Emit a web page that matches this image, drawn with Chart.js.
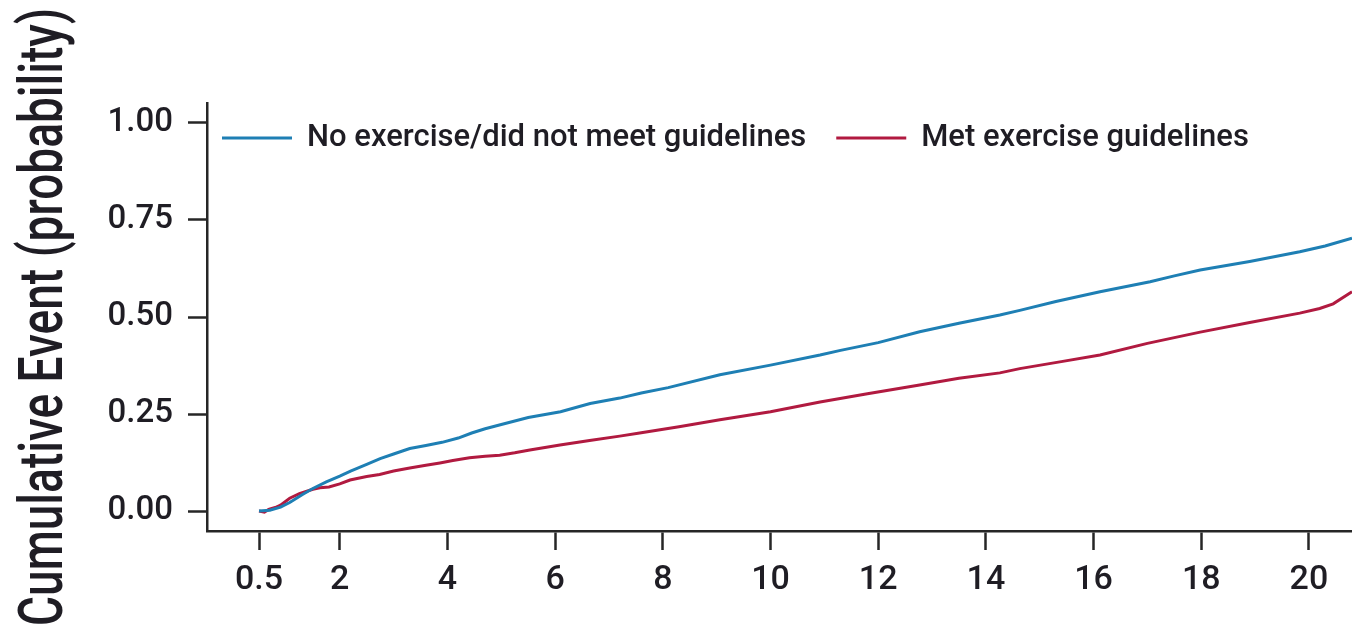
<!DOCTYPE html>
<html>
<head>
<meta charset="utf-8">
<script src="https://cdn.jsdelivr.net/npm/chart.js@4.4.1/dist/chart.umd.min.js"></script>
<style>
  html, body { margin: 0; padding: 0; background: #ffffff; overflow: hidden; }
  canvas { display: block; }
</style>
</head>
<body>
<canvas id="curve" width="1352" height="631"></canvas>
<script>
// Cumulative event curves by exercise group (years of follow-up vs probability)
const seriesLabels = ['No exercise/did not meet guidelines', 'Met exercise guidelines'];
const seriesColors = ['#1e7fb4', '#b11a40'];

const noExerciseYears = [0.5, 0.7, 0.9, 1.07, 1.3, 1.5, 1.75, 2.0, 2.2, 2.5, 2.75, 3.0, 3.3, 3.6, 3.9, 4.2, 4.45, 4.7, 5.0, 5.5, 6.1, 6.65, 7.2, 7.6, 8.1, 9.06, 10.0, 10.92, 11.3, 12.0, 12.77, 13.5, 14.26, 14.63, 15.3, 16.12, 17.05, 17.5, 17.98, 18.9, 19.83, 20.3, 20.8];
const noExerciseProb  = [0.000, 0.002, 0.010, 0.022, 0.042, 0.058, 0.075, 0.090, 0.103, 0.120, 0.135, 0.147, 0.161, 0.169, 0.177, 0.188, 0.201, 0.212, 0.223, 0.241, 0.256, 0.277, 0.291, 0.304, 0.318, 0.351, 0.376, 0.402, 0.414, 0.434, 0.462, 0.484, 0.505, 0.517, 0.540, 0.565, 0.591, 0.606, 0.621, 0.643, 0.668, 0.683, 0.703];

const metYears = [0.5, 0.6, 0.68, 0.8, 0.9, 1.07, 1.25, 1.5, 1.63, 1.8, 2.0, 2.19, 2.5, 2.74, 3.0, 3.3, 3.6, 3.86, 4.1, 4.41, 4.7, 4.97, 5.25, 5.53, 6.09, 6.64, 7.2, 7.57, 8.3, 9.06, 10.0, 10.92, 11.8, 12.77, 13.5, 14.26, 14.63, 15.4, 16.12, 17.0, 17.98, 18.9, 19.83, 20.2, 20.45, 20.8];
const metProb  = [0.000, -0.003, 0.004, 0.009, 0.015, 0.033, 0.045, 0.056, 0.060, 0.062, 0.070, 0.080, 0.089, 0.094, 0.103, 0.111, 0.118, 0.124, 0.130, 0.137, 0.141, 0.144, 0.150, 0.157, 0.170, 0.182, 0.193, 0.201, 0.217, 0.235, 0.256, 0.281, 0.302, 0.325, 0.342, 0.356, 0.367, 0.385, 0.402, 0.432, 0.461, 0.486, 0.510, 0.522, 0.534, 0.565];

const xTickValues = [0.5, 2, 4, 6, 8, 10, 12, 14, 16, 18, 20];
const yTickValues = [0, 0.25, 0.5, 0.75, 1];
const yAxisTitle = 'Cumulative Event (probability)';

const fontFamily = 'Roboto, "Liberation Sans", Arial, sans-serif';
const fontWeight = '500';
const textColor = '#1f1d24';
const axisColor = '#262626';

function toPoints(xs, ys) {
  return xs.map((x, i) => ({ x: x, y: ys[i] }));
}

// Rotated, slightly condensed axis title on the left
const yTitlePlugin = {
  id: 'yTitle',
  afterDraw(chart) {
    const ctx = chart.ctx;
    const area = chart.chartArea;
    ctx.save();
    ctx.translate(62, (area.top + area.bottom) / 2);
    ctx.rotate(-Math.PI / 2);
    ctx.font = fontWeight + ' 61px ' + fontFamily;
    const natural = ctx.measureText(yAxisTitle).width;
    ctx.scale(618 / natural, 1);
    ctx.fillStyle = textColor;
    ctx.textAlign = 'center';
    ctx.textBaseline = 'alphabetic';
    ctx.fillText(yAxisTitle, 0, 0);
    ctx.restore();
  }
};

// Single-row key drawn inside the plot area, along its top
const inlineLegendPlugin = {
  id: 'inlineLegend',
  afterDraw(chart) {
    const ctx = chart.ctx;
    const area = chart.chartArea;
    let x = area.left + 15;
    const y = area.top + 35;
    ctx.save();
    ctx.font = fontWeight + ' 31px ' + fontFamily;
    ctx.textAlign = 'left';
    ctx.textBaseline = 'alphabetic';
    chart.data.datasets.forEach(ds => {
      ctx.strokeStyle = ds.borderColor;
      ctx.lineWidth = 3;
      ctx.beginPath();
      ctx.moveTo(x, y);
      ctx.lineTo(x + 70, y);
      ctx.stroke();
      x += 85;
      ctx.fillStyle = textColor;
      ctx.fillText(ds.label, x, y + 8);
      x += ctx.measureText(ds.label).width + 30;
    });
    ctx.restore();
  }
};

new Chart(document.getElementById('curve'), {
  type: 'line',
  data: {
    datasets: [
      {
        label: seriesLabels[0],
        data: toPoints(noExerciseYears, noExerciseProb),
        borderColor: seriesColors[0],
        backgroundColor: seriesColors[0],
        borderWidth: 3,
        pointRadius: 0,
        tension: 0,
        fill: false
      },
      {
        label: seriesLabels[1],
        data: toPoints(metYears, metProb),
        borderColor: seriesColors[1],
        backgroundColor: seriesColors[1],
        borderWidth: 3,
        pointRadius: 0,
        tension: 0,
        fill: false
      }
    ]
  },
  options: {
    responsive: false,
    animation: false,
    layout: { padding: { left: 0, top: 103, right: 0, bottom: 0 } },
    plugins: {
      legend: { display: false },
      tooltip: { enabled: false },
      title: { display: false }
    },
    scales: {
      x: {
        type: 'linear',
        min: -0.466,
        max: 20.8,
        afterBuildTicks: s => { s.ticks = xTickValues.map(v => ({ value: v })); },
        afterFit: s => { s.height = 100; },
        grid: {
          display: true,
          drawOnChartArea: false,
          drawTicks: true,
          tickLength: 19,
          tickWidth: 2.5,
          tickColor: axisColor
        },
        border: { display: true, color: axisColor, width: 2.5 },
        ticks: {
          autoSkip: false,
          maxRotation: 0,
          minRotation: 0,
          padding: 10,
          color: textColor,
          font: { size: 34, family: fontFamily, weight: fontWeight },
          callback: v => String(v)
        }
      },
      y: {
        type: 'linear',
        min: -0.0515,
        max: 1.0515,
        afterBuildTicks: s => { s.ticks = yTickValues.map(v => ({ value: v })); },
        afterFit: s => { s.width = 207; },
        grid: {
          display: true,
          drawOnChartArea: false,
          drawTicks: true,
          tickLength: 19,
          tickWidth: 2.5,
          tickColor: axisColor
        },
        border: { display: true, color: axisColor, width: 2.5 },
        ticks: {
          padding: 15,
          color: textColor,
          font: { size: 33, family: fontFamily, weight: fontWeight },
          callback: v => v.toFixed(2)
        }
      }
    }
  },
  plugins: [yTitlePlugin, inlineLegendPlugin]
});
</script>
</body>
</html>
